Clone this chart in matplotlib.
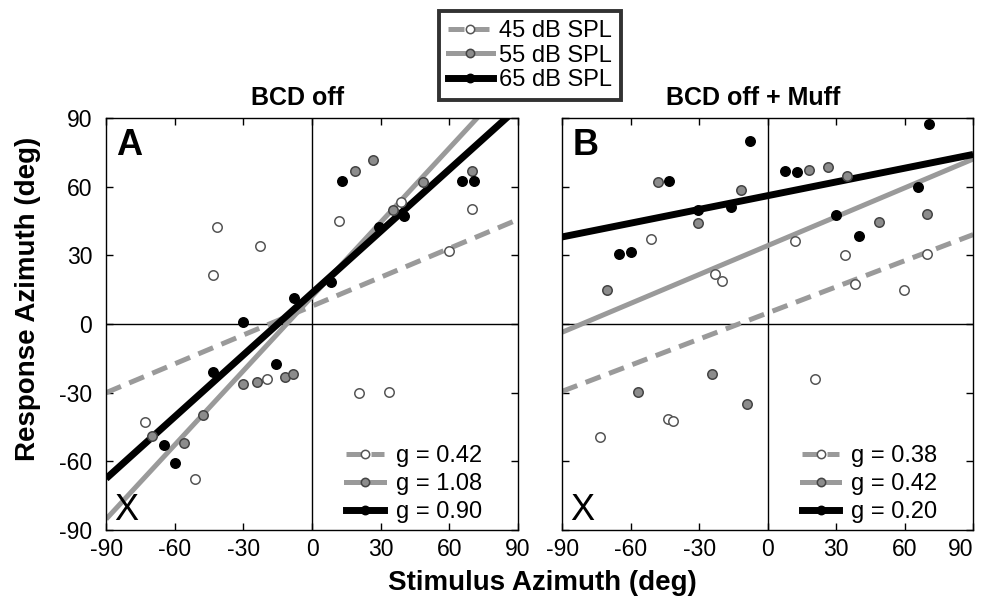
"""Azimuth response scatter with regression lines, two panels (BCD off / + Muff)."""

import matplotlib.pyplot as plt
from matplotlib.lines import Line2D

plt.rcParams["font.family"] = ["Liberation Sans", "DejaVu Sans"]
plt.rcParams["axes.unicode_minus"] = False

LEVELS = ["45 dB SPL", "55 dB SPL", "65 dB SPL"]
PANEL_TITLES = ["BCD off", "BCD off + Muff"]
PANEL_LETTERS = ["A", "B"]
TICKS = [-90, -60, -30, 0, 30, 60, 90]

# panel A (BCD off)
a45_x = [-41.4, -22.7, -43.1, 11.9, 38.7, 69.8, 59.9, -19.8, -73.0, -51.0, 20.7, 33.8]
a45_y = [42.5, 34.1, 21.5, 44.9, 53.2, 50.2, 32.0, -24.2, -42.8, -67.9, -30.3, -29.6]
a55_x = [26.8, 18.8, 35.2, 48.6, 69.8, -11.8, -8.4, -24.2, -30.0, -47.5, -70.0, -56.2]
a55_y = [71.6, 66.8, 49.8, 61.9, 66.8, -23.0, -21.8, -25.3, -26.4, -39.9, -48.9, -51.8]
a65_x = [-7.7, -30.0, 13.0, 40.2, 29.4, 8.2, 65.7, 70.8, -15.7, -43.1, -64.7, -59.7]
a65_y = [11.2, 0.8, 62.5, 47.2, 42.5, 18.5, 62.5, 62.5, -17.6, -21.0, -52.7, -60.6]
a_gain = [0.42, 1.08, 0.90]
a_offset = [7.8, 12.0, 13.5]

# panel B (BCD off + Muff)
b45_x = [-51.2, -23.2, -20.0, 11.8, 33.9, 69.8, 38.4, 59.5, -43.6, -41.5, -73.4, 20.5]
b45_y = [37.0, 21.7, 18.9, 36.0, 30.1, 30.6, 17.3, 14.9, -41.4, -42.4, -49.2, -24.0]
b55_x = [-47.9, -11.9, -30.4, -70.5, 18.3, 26.3, 34.6, 48.6, 69.8, -24.3, -56.7, -9.0]
b55_y = [61.9, 58.5, 44.0, 14.9, 67.3, 68.5, 64.7, 44.4, 48.1, -22.0, -29.6, -35.1]
b65_x = [-7.9, -43.1, -30.4, -15.9, -65.0, -59.9, 70.8, 7.7, 12.8, 65.7, 29.7, 39.8]
b65_y = [79.9, 62.2, 49.8, 51.0, 30.4, 31.6, 87.4, 66.8, 66.5, 60.0, 47.5, 38.6]
b_gain = [0.38, 0.42, 0.20]
b_offset = [4.8, 34.2, 56.0]

LINE_STYLE = [
    dict(color="#9a9a9a", lw=3.6, ls=(0, (3.2, 1.8))),
    dict(color="#9a9a9a", lw=3.6, ls="-"),
    dict(color="black", lw=5.0, ls="-"),
]
MARKER_STYLE = [
    dict(mfc="white", mec="#555555"),
    dict(mfc="#8c8c8c", mec="#444444"),
    dict(mfc="black", mec="black"),
]


def legend_handles(ms):
    return [
        Line2D([], [], marker="o", ms=ms, mew=1.1, **LINE_STYLE[i], **MARKER_STYLE[i])
        for i in range(3)
    ]


def draw_panel(ax, xs, ys, gains, offsets, title, letter, show_ylabels):
    line_x = [-90, 90]
    for i in range(3):
        line_y = [gains[i] * v + offsets[i] for v in line_x]
        ax.plot(line_x, line_y, solid_capstyle="butt", dash_capstyle="butt",
                zorder=2, **LINE_STYLE[i])
    for i in range(3):
        ax.plot(xs[i], ys[i], "o", ms=6.8, mew=1.1, ls="none", zorder=3,
                **MARKER_STYLE[i])

    ax.axhline(0, color="black", lw=1.0, zorder=1)
    ax.axvline(0, color="black", lw=1.0, zorder=1)
    ax.set_xlim(-90, 90)
    ax.set_ylim(-90, 90)
    ax.set_xticks(TICKS)
    ax.set_yticks(TICKS)
    if not show_ylabels:
        ax.set_yticklabels([])
    ax.tick_params(direction="in", length=5, width=1, labelsize=16.5,
                   top=True, right=True)
    ax.tick_params(axis="y", pad=10)
    ax.tick_params(axis="x", pad=6)
    for spine in ax.spines.values():
        spine.set_linewidth(1.0)

    ax.text(0.465, 1.02, title, transform=ax.transAxes, ha="center",
            va="bottom", fontsize=18, fontweight="bold")
    ax.text(0.025, 0.975, letter, transform=ax.transAxes, ha="left",
            va="top", fontsize=26, fontweight="bold")
    ax.text(0.02, 0.005, "X", transform=ax.transAxes, ha="left",
            va="bottom", fontsize=26)

    labels = [f"g = {g:.2f}" for g in gains]
    ax.legend(legend_handles(6.0), labels, loc="lower right", frameon=False,
              fontsize=17, handlelength=1.6, handletextpad=0.5,
              labelspacing=0.25, borderaxespad=0.0, borderpad=0.3,
              bbox_to_anchor=(0.93, 0.0))


fig = plt.figure(figsize=(9.83, 6.01), dpi=100)
ax_a = fig.add_axes([0.108, 0.118, 0.419, 0.686])
ax_b = fig.add_axes([0.572, 0.118, 0.418, 0.686])

draw_panel(ax_a, [a45_x, a55_x, a65_x], [a45_y, a55_y, a65_y],
           a_gain, a_offset, PANEL_TITLES[0], PANEL_LETTERS[0], True)
draw_panel(ax_b, [b45_x, b55_x, b65_x], [b45_y, b55_y, b65_y],
           b_gain, b_offset, PANEL_TITLES[1], PANEL_LETTERS[1], False)

# keep the last x tick label of panel B inside the figure
fig.canvas.draw()
ax_b.get_xticklabels()[-1].set_horizontalalignment("right")
ax_b.get_xticklabels()[-1].set_x(91.5)

fig.text(28 / 983, 0.503, "Response Azimuth (deg)", rotation=90, ha="center",
         va="center", fontsize=20, fontweight="bold")
fig.text(0.552, 0.008, "Stimulus Azimuth (deg)", ha="center", va="bottom",
         fontsize=20, fontweight="bold")

top = fig.legend(legend_handles(6.0), LEVELS, loc="upper center",
                 bbox_to_anchor=(0.539, 0.982), fontsize=17, frameon=True,
                 fancybox=False, edgecolor="black", handlelength=1.9,
                 handletextpad=0.25, labelspacing=0.1, borderpad=0.4,
                 borderaxespad=0.0)
top.get_frame().set_linewidth(2.8)

fig.savefig("out.png")
